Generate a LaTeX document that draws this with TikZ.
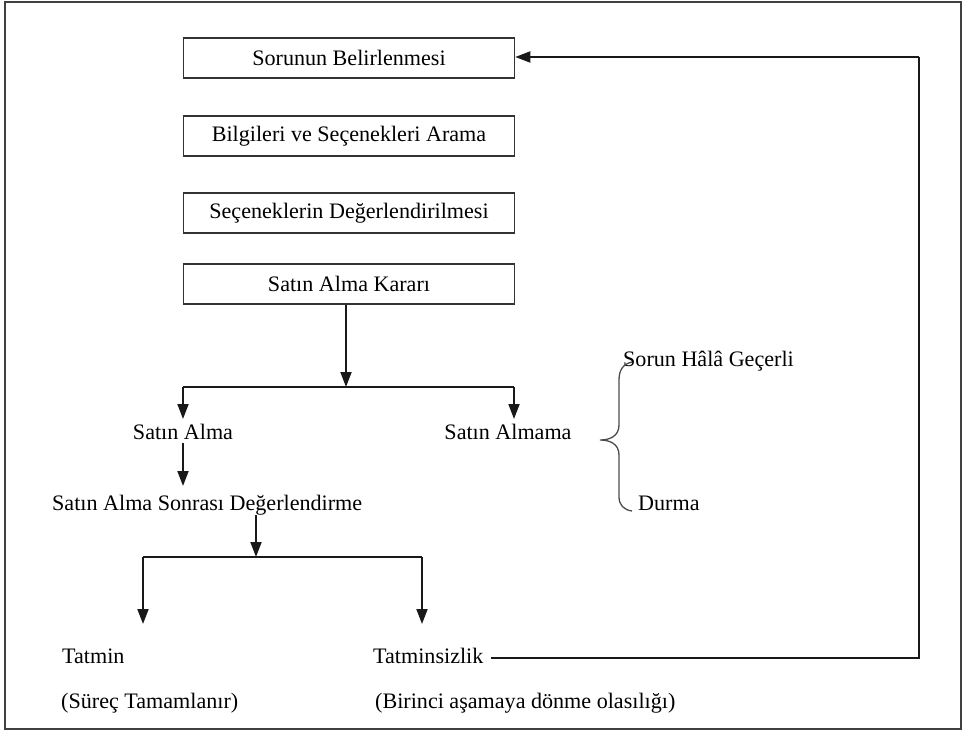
\documentclass[tikz,border=0pt]{standalone}
\usepackage{fontspec}
\setmainfont{Liberation Serif}
\usetikzlibrary{arrows.meta}
\begin{document}
\begin{tikzpicture}[x=1pt,y=-1pt,
  every node/.style={font=\fontsize{22.1}{26}\selectfont, text=black},
  box/.style={draw=black!80, line width=1.5pt, minimum width=331pt, minimum height=40pt, inner sep=0pt},
  lbl/.style={inner sep=0pt, anchor=base west},
  lblc/.style={inner sep=0pt, anchor=base},
  arr/.style={-{Triangle[length=15pt,width=11pt]}, line width=1.8pt, draw=black!90},
  ln/.style={line width=1.8pt, draw=black!90}]
\useasboundingbox (0,0) rectangle (963,731);
\draw[draw=black!75, line width=1.5pt] (5,2) rectangle (961,729);

\node[box] (b1) at (349,58) {Sorunun Belirlenmesi};
\node[box] (b2) at (349,136) {Bilgileri ve Seçenekleri Arama};
\node[box] (b3) at (349,213) {Seçeneklerin Değerlendirilmesi};
\node[box] (b4) at (349,284) {Satın Alma Kararı};

\coordinate (j1) at (346,387);
\coordinate (j1l) at (183,387);
\coordinate (j1r) at (514,387);
\coordinate (t1l) at (183,419);
\coordinate (t1r) at (514,419);

\node[lblc] (sa) at (183,439) {Satın Alma};
\node[lblc] (sam) at (508,439) {Satın Almama};
\node[lbl] (sasd) at (52,510) {Satın Alma Sonrası Değerlendirme};

\coordinate (a1s) at (183,443);
\coordinate (a1e) at (183,486);
\coordinate (j2s) at (256,515);
\coordinate (j2) at (256,557);
\coordinate (j2l) at (143,557);
\coordinate (j2r) at (422,557);
\coordinate (t2l) at (143,624);
\coordinate (t2r) at (422,624);

\node[lbl] (tm) at (62,663) {Tatmin};
\node[lbl] (tz) at (373,663) {Tatminsizlik};
\node[lbl] (stm) at (61,708) {(Süreç Tamamlanır)};
\node[lbl] (bir) at (375,708) {(Birinci aşamaya dönme olasılığı)};

\node[lbl] (shg) at (623,366) {Sorun Hâlâ Geçerli};
\node[lbl] (dur) at (638,510) {Durma};

\coordinate (lp) at (491,658);
\coordinate (lc1) at (919,658);
\coordinate (lc2) at (919,57);

% connectors
\draw[arr] (b4.south -| j1) -- (j1);
\draw[ln] (j1l) -- (j1r);
\draw[arr] (j1l) -- (t1l);
\draw[arr] (j1r) -- (t1r);
\draw[arr] (a1s) -- (a1e);
\draw[arr] (j2s) -- (j2);
\draw[ln] (j2l) -- (j2r);
\draw[arr] (j2l) -- (t2l);
\draw[arr] (j2r) -- (t2r);
\draw[ln] (lp) -- (lc1) -- (lc2);
\draw[arr] (lc2) -- (lc2 -| b1.east);

% brace
\draw[draw=black!70, line width=1.3pt]
  (632,362) .. controls (623,364) and (619,370) .. (619,380) -- (619,425)
  .. controls (619,436) and (610,440) .. (600,440)
  .. controls (610,440) and (619,444) .. (619,455) -- (619,497)
  .. controls (619,505) and (624,510) .. (632,511);
\end{tikzpicture}
\end{document}
